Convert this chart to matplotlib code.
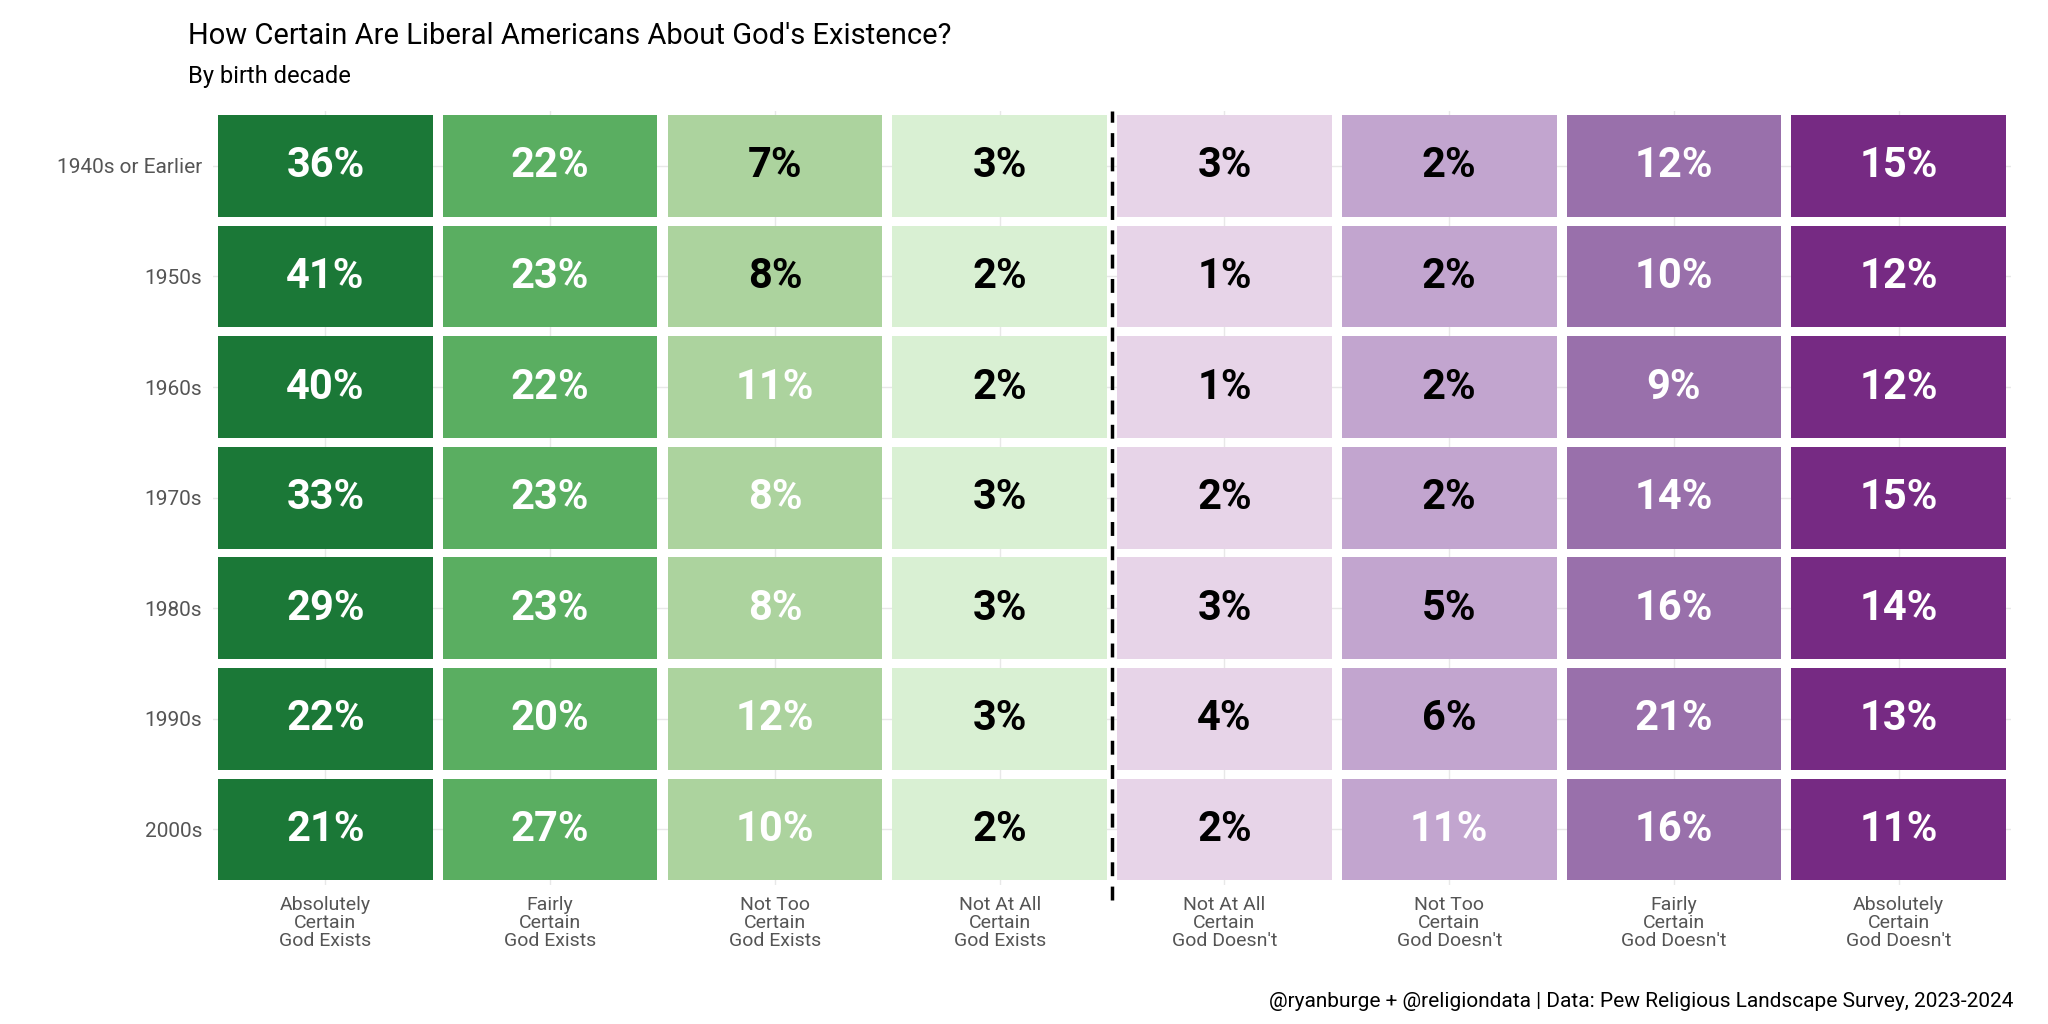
import matplotlib
matplotlib.use("Agg")
import matplotlib.pyplot as plt
import numpy as np

decades = ["1940s or Earlier", "1950s", "1960s", "1970s", "1980s", "1990s", "2000s"]
categories = ["Absolutely\nCertain\nGod Exists", "Fairly\nCertain\nGod Exists", "Not Too\nCertain\nGod Exists",
              "Not At All\nCertain\nGod Exists", "Not At All\nCertain\nGod Doesn't", "Not Too\nCertain\nGod Doesn't",
              "Fairly\nCertain\nGod Doesn't", "Absolutely\nCertain\nGod Doesn't"]
values = [
    [36, 22, 7, 3, 3, 2, 12, 15],
    [41, 23, 8, 2, 1, 2, 10, 12],
    [40, 22, 11, 2, 1, 2, 9, 12],
    [33, 23, 8, 3, 2, 2, 14, 15],
    [29, 23, 8, 3, 3, 5, 16, 14],
    [22, 20, 12, 3, 4, 6, 21, 13],
    [21, 27, 10, 2, 2, 11, 16, 11],
]
label_white = [
    [1, 1, 0, 0, 0, 0, 1, 1],
    [1, 1, 0, 0, 0, 0, 1, 1],
    [1, 1, 1, 0, 0, 0, 1, 1],
    [1, 1, 1, 0, 0, 0, 1, 1],
    [1, 1, 1, 0, 0, 0, 1, 1],
    [1, 1, 1, 0, 0, 0, 1, 1],
    [1, 1, 1, 0, 0, 1, 1, 1],
]
colors = ["#1b7837", "#5aae61", "#acd39e", "#d9f0d3", "#e7d4e8", "#c2a5cf", "#9970ab", "#762a83"]

plt.rcParams['font.family'] = ['Roboto', 'DejaVu Sans']
fig = plt.figure(figsize=(20.48, 10.24), dpi=100)
ax = fig.add_axes([0.104, 0.136, 0.878, 0.756])

n = len(decades)
for i, row in enumerate(values):
    y = n - 1 - i
    for j, v in enumerate(row):
        ax.bar(j, 0.92, bottom=y - 0.46, width=0.955, color=colors[j], zorder=2)
        ax.text(j, y, f"{v}%", ha="center", va="center", fontsize=30, fontweight="bold",
                color="white" if label_white[i][j] else "black", zorder=3)

ax.axvline(3.5, color="black", linestyle=(0, (4, 3)), linewidth=2.5, zorder=4, ymin=-0.02, ymax=1.0, clip_on=False)
ax.set_xlim(-0.5, 7.5)
ax.set_ylim(-0.5, n - 0.5)
ax.set_xticks(range(8))
ax.set_xticklabels(categories, fontsize=14, color="#555555", linespacing=1.0)
ax.set_yticks(range(n))
ax.set_yticklabels(decades[::-1], fontsize=15, color="#555555")
ax.tick_params(length=0, pad=8)
ax.grid(True, color="#e8e8e8", linewidth=1, zorder=0)
for s in ax.spines.values():
    s.set_visible(False)

fig.text(0.092, 0.965, "How Certain Are Liberal Americans About God's Existence?", fontsize=21, va="center")
fig.text(0.092, 0.925, "By birth decade", fontsize=17, va="center")
fig.text(0.983, 0.022, "@ryanburge + @religiondata | Data: Pew Religious Landscape Survey, 2023-2024",
         fontsize=15, ha="right", va="center")
fig.savefig("out.png", dpi=100, facecolor="white")
